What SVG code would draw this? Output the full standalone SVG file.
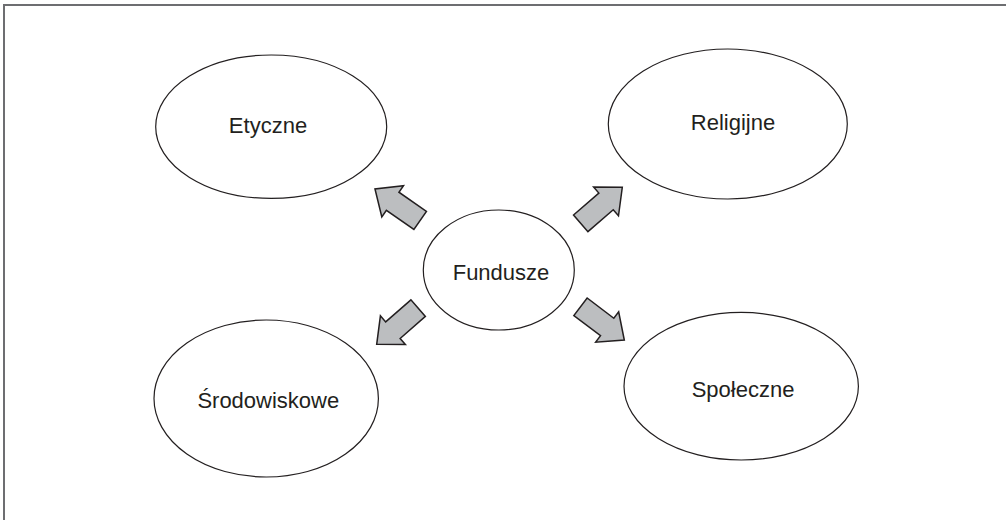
<svg xmlns="http://www.w3.org/2000/svg" xmlns:xlink="http://www.w3.org/1999/xlink" width="1006" height="520" viewBox="0 0 1006 520">
  <style>
    .frame { fill: none; stroke: #6d6e71; stroke-width: 2; }
    .node ellipse { fill: #ffffff; stroke: #231f20; stroke-width: 1.2; }
    .node text { font-family: "Liberation Sans", Arial, sans-serif; font-size: 22px; fill: #231f20; text-anchor: middle; }
    .arrow { fill: #bcbec0; stroke: #231f20; stroke-width: 1.5; stroke-linejoin: miter; }
  </style>
  <defs>
    <!-- block arrow, tip at the origin, pointing along +x -->
    <polygon id="blockArrow" points="0,0 -21.5,-19 -21.5,-11 -55,-11 -55,11 -21.5,11 -21.5,19"/>
  </defs>

  <rect x="0" y="0" width="1006" height="520" fill="#ffffff"/>
  <path class="frame" d="M4,521 V5 H1007"/>

  <g id="connectors">
    <use xlink:href="#blockArrow" class="arrow" transform="translate(375,189) rotate(214.8)"/>
    <use xlink:href="#blockArrow" class="arrow" transform="translate(622.3,187.3) rotate(-40.9)"/>
    <use xlink:href="#blockArrow" class="arrow" transform="translate(376.7,344.3) rotate(138.9)"/>
    <use xlink:href="#blockArrow" class="arrow" transform="translate(624.3,340) rotate(37.2)"/>
  </g>

  <g id="fundusze" class="node">
    <ellipse cx="498.8" cy="270" rx="75.5" ry="60"/>
    <text x="501" y="280">Fundusze</text>
  </g>
  <g id="etyczne" class="node">
    <ellipse cx="271.2" cy="126.7" rx="115.5" ry="71.7"/>
    <text x="268" y="133">Etyczne</text>
  </g>
  <g id="religijne" class="node">
    <ellipse cx="727.8" cy="124" rx="119.5" ry="75"/>
    <text x="733" y="129.5">Religijne</text>
  </g>
  <g id="srodowiskowe" class="node">
    <ellipse cx="266.2" cy="398.5" rx="112.2" ry="78.5"/>
    <text x="268.3" y="408.3">Środowiskowe</text>
  </g>
  <g id="spoleczne" class="node">
    <ellipse cx="741.2" cy="386.2" rx="117.2" ry="73.8"/>
    <text x="743" y="396.7">Społeczne</text>
  </g>
</svg>
